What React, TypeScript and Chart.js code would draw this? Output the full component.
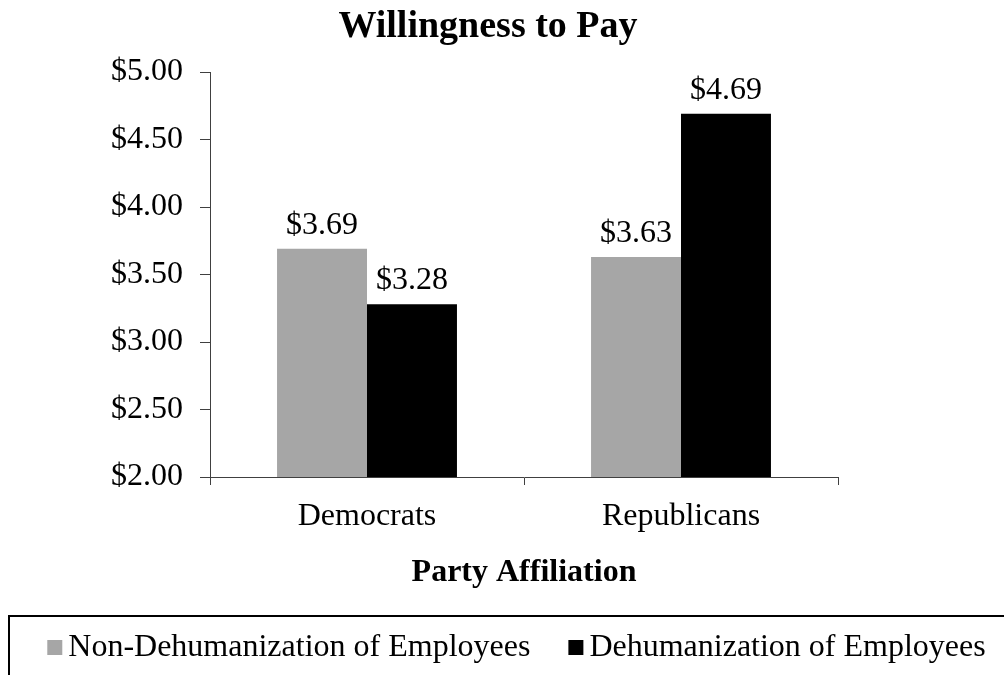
import React, { useEffect, useRef } from "react";
import { Chart, registerables } from "chart.js";

Chart.register(...registerables);

// ---- data ----
const categories = ["Democrats", "Republicans"];
const seriesNames = ["Non-Dehumanization of Employees", "Dehumanization of Employees"];
const nonDehumanization = [3.69, 3.63];
const dehumanization = [3.28, 4.69];
const yMin = 2;
const yMax = 5;
const yStep = 0.5;
const chartTitle = "Willingness to Pay";
const xAxisTitle = "Party Affiliation";

// ---- style ----
const FONT = '"Liberation Serif", "Times New Roman", Times, serif';
const GRAY = "#a6a6a6";
const BLACK = "#000000";
const AXIS = "#404040";
const money = (v: number) => "$" + Number(v).toFixed(2);

const titlePlugin = {
  id: "customTitle",
  afterDraw(chart: any) {
    const ctx = chart.ctx;
    ctx.save();
    ctx.font = `bold 38px ${FONT}`;
    ctx.fillStyle = "#000";
    ctx.textAlign = "center";
    ctx.textBaseline = "alphabetic";
    ctx.fillText(chartTitle, 488, 37);
    ctx.restore();
  },
};

const valueLabelPlugin = {
  id: "valueLabels",
  afterDatasetsDraw(chart: any) {
    const ctx = chart.ctx;
    ctx.save();
    ctx.font = `32px ${FONT}`;
    ctx.fillStyle = "#000";
    ctx.textAlign = "center";
    ctx.textBaseline = "alphabetic";
    chart.data.datasets.forEach((ds: any, i: number) => {
      const meta = chart.getDatasetMeta(i);
      meta.data.forEach((el: any, j: number) => {
        ctx.fillText(money(ds.data[j]), el.x, el.y - 15);
      });
    });
    ctx.restore();
  },
};

const legendPlugin = {
  id: "boxLegend",
  afterDraw(chart: any) {
    const ctx = chart.ctx;
    ctx.save();
    ctx.lineWidth = 2;
    ctx.strokeStyle = "#000";
    ctx.strokeRect(9, 616, 1016, 100);
    ctx.font = `32px ${FONT}`;
    ctx.textBaseline = "alphabetic";
    ctx.textAlign = "left";
    const sq = 15;
    const gap = 6;
    const itemGap = 38;
    const items = chart.data.datasets.map((ds: any) => ({
      label: ds.label,
      color: ds.backgroundColor,
      w: ctx.measureText(ds.label).width,
    }));
    const total =
      items.reduce((a: number, it: any) => a + sq + gap + it.w, 0) + itemGap * (items.length - 1);
    let x = 516.5 - total / 2;
    items.forEach((it: any) => {
      ctx.fillStyle = it.color;
      ctx.fillRect(x, 640, sq, sq);
      ctx.fillStyle = "#000";
      ctx.fillText(it.label, x + sq + gap, 656);
      x += sq + gap + it.w + itemGap;
    });
    ctx.restore();
  },
};

export default function App() {
  const ref = useRef<HTMLCanvasElement | null>(null);

  useEffect(() => {
    if (!ref.current) return;
    const chart = new Chart(ref.current, {
      type: "bar",
      data: {
        labels: categories,
        datasets: [
          {
            label: seriesNames[0],
            data: nonDehumanization,
            backgroundColor: GRAY,
            categoryPercentage: 0.573,
            barPercentage: 1,
          },
          {
            label: seriesNames[1],
            data: dehumanization,
            backgroundColor: BLACK,
            categoryPercentage: 0.573,
            barPercentage: 1,
          },
        ],
      },
      options: {
        responsive: false,
        animation: false,
        layout: { padding: { left: 0, right: 166, top: 72, bottom: 82.8 } },
        font: { family: FONT },
        plugins: {
          legend: { display: false },
          tooltip: { enabled: false },
          title: { display: false },
        },
        scales: {
          x: {
            type: "category",
            offset: true,
            grid: {
              display: true,
              drawOnChartArea: false,
              drawTicks: true,
              tickLength: 8,
              offset: true,
              color: AXIS,
            },
            border: { display: true, color: AXIS, width: 1 },
            ticks: { font: { family: FONT, size: 32 }, color: "#000", padding: 12 },
            title: {
              display: true,
              text: xAxisTitle,
              font: { family: FONT, size: 32, weight: "bold" },
              color: "#000",
              padding: 0,
            },
            afterFit: (s: any) => {
              s.height = 115.2;
            },
          },
          y: {
            min: yMin,
            max: yMax,
            grid: {
              display: true,
              drawOnChartArea: false,
              drawTicks: true,
              tickLength: 10,
              color: AXIS,
            },
            border: { display: true, color: AXIS, width: 1 },
            ticks: {
              stepSize: yStep,
              font: { family: FONT, size: 32 },
              color: "#000",
              padding: 17,
              callback: (v: any) => money(v),
            },
            afterFit: (s: any) => {
              s.width = 210;
            },
          },
        },
      } as any,
      plugins: [titlePlugin, valueLabelPlugin, legendPlugin],
    });
    return () => chart.destroy();
  }, []);

  return (
    <div style={{ position: "absolute", left: 0, top: 0, width: 1004, height: 675, background: "#fff" }}>
      <canvas ref={ref} width={1004} height={675} style={{ display: "block" }} />
    </div>
  );
}
